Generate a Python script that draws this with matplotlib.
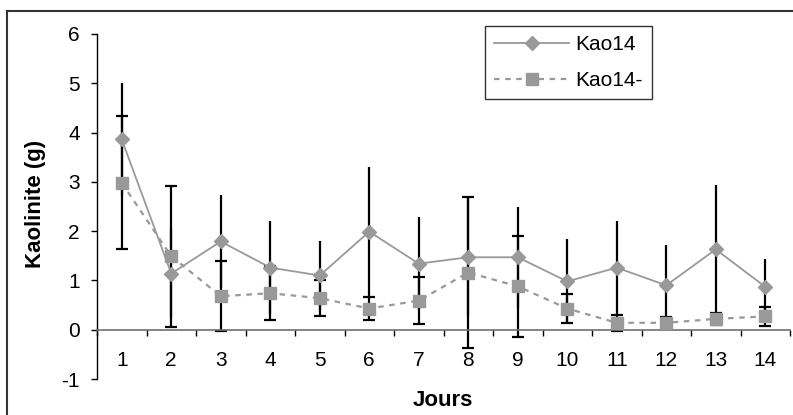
import matplotlib
matplotlib.use('Agg')
import matplotlib.pyplot as plt
from matplotlib.lines import Line2D
import numpy as np

plt.rcParams['font.family'] = ['Liberation Sans', 'DejaVu Sans']
plt.rcParams['axes.unicode_minus'] = False

# data
jours = list(range(1, 15))
kao14 = [3.86, 1.14, 1.79, 1.26, 1.10, 1.99, 1.34, 1.47, 1.47, 0.98, 1.26, 0.90, 1.63, 0.87]
kao14_err = [1.14, 0.90, 0.95, 0.95, 0.70, 1.31, 0.94, 1.20, 1.02, 0.86, 0.95, 0.81, 1.30, 0.56]
kao14m = [2.98, 1.49, 0.68, 0.74, 0.64, 0.43, 0.59, 1.16, 0.88, 0.43, 0.14, 0.14, 0.22, 0.27]
kao14m_err = [1.35, 1.43, 0.71, 0.55, 0.37, 0.24, 0.48, 1.53, 1.02, 0.29, 0.16, 0.12, 0.12, 0.20]

grey = '#999999'

fig = plt.figure(figsize=(7.93, 4.15), dpi=100)
ax = fig.add_axes([97 / 793, 36 / 415, 693 / 793, 345 / 415])

# error bars (behind the markers)
ax.errorbar(jours, kao14, yerr=kao14_err, fmt='none', ecolor='black',
            elinewidth=1.6, capsize=0, zorder=2)
ax.errorbar(jours, kao14m, yerr=kao14m_err, fmt='none', ecolor='black',
            elinewidth=1.6, capsize=4.5, capthick=1.6, zorder=2)

ax.plot(jours, kao14, color=grey, lw=1.3, marker='D', markersize=7.5,
        markerfacecolor=grey, markeredgecolor=grey, label='Kao14', zorder=3)
ax.plot(jours, kao14m, color=grey, lw=1.6, ls=(0, (2.5, 2.5)), marker='s',
        markersize=8, markerfacecolor=grey, markeredgecolor=grey,
        label='Kao14-', zorder=3)

ax.set_xlim(0.5, 14.5)
ax.set_ylim(-1, 6)

ax.spines['top'].set_visible(False)
ax.spines['right'].set_visible(False)
ax.spines['bottom'].set_position(('data', 0))
ax.spines['bottom'].set_color('#707070')
ax.spines['bottom'].set_linewidth(1.2)
ax.spines['left'].set_linewidth(1.0)

ax.set_yticks(range(-1, 7))
ax.tick_params(axis='y', direction='out', length=4.3, width=1, pad=8,
               labelsize=15)
ax.set_xticks(jours)
ax.set_xticks(np.arange(0.5, 15, 1), minor=True)
ax.tick_params(axis='x', which='major', length=0, pad=15, labelsize=15)
ax.tick_params(axis='x', which='minor', direction='out', length=4,
               width=1, color='black')

fig.text(443 / 793, 1 - 400 / 415, 'Jours', ha='center', va='center',
         fontsize=16, fontweight='bold')
fig.text(35 / 793, 1 - 204 / 415, 'Kaolinite (g)', ha='center',
         va='center', rotation=90, fontsize=16, fontweight='bold')

leg = ax.legend(loc='upper left', bbox_to_anchor=(485 / 793, 1 - 26 / 415),
                bbox_transform=fig.transFigure, fontsize=15, frameon=True,
                fancybox=False, edgecolor='black', handlelength=3.6,
                labelspacing=0.8, borderpad=0.45, handletextpad=0.3,
                borderaxespad=0)
leg.get_frame().set_linewidth(1.0)

# outer chart frame (left and top edges only visible)
fig.add_artist(Line2D([7 / 793, 7 / 793], [0, 1 - 11.5 / 415],
                      transform=fig.transFigure, color='#333333', lw=1.5))
fig.add_artist(Line2D([7 / 793, 1], [1 - 11.5 / 415, 1 - 11.5 / 415],
                      transform=fig.transFigure, color='#333333', lw=1.5))

fig.savefig('out.png', dpi=100)
